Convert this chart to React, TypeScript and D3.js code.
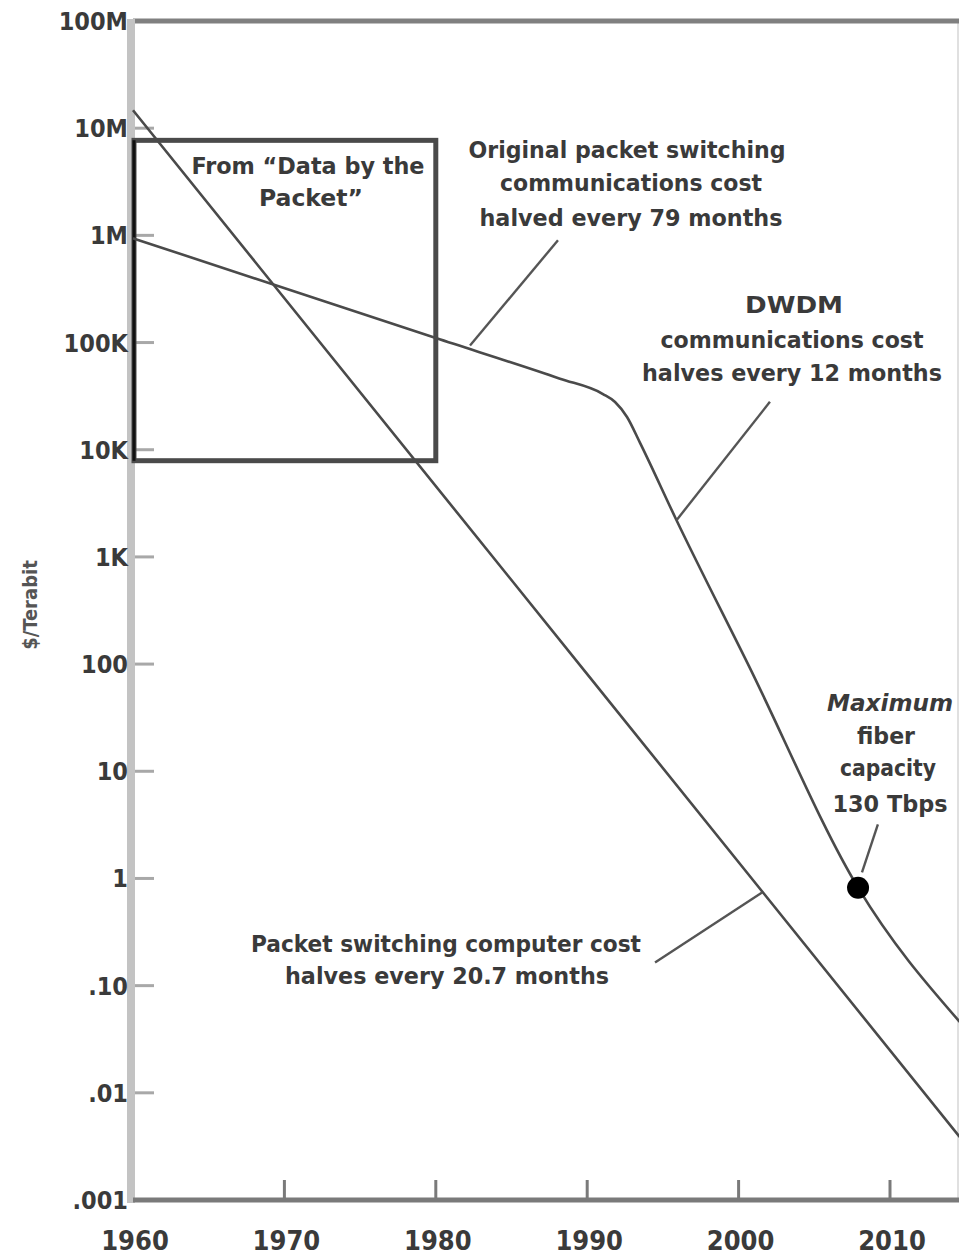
import * as d3 from "d3";

const yearTicks = [1960, 1970, 1980, 1990, 2000, 2010];
const costTicks = [1e-3, 1e-2, 1e-1, 1, 10, 100, 1e3, 1e4, 1e5, 1e6, 1e7, 1e8];
const costTickLabels = [".001", ".01", ".10", "1", "10", "100", "1K", "10K", "100K", "1M", "10M", "100M"];

// packet switching computer cost (halves every 20.7 months)
const computerYears = [1960, 1990, 2014.6];
const computerCost = [1.47e7, 80.7, 0.00388];

// original packet switching comm cost, then DWDM, then fiber limit
const commYears = [1960, 1980, 1988.2, 1991.04, 1991.84, 1992.63, 1993.49, 1995.9, 2000.62, 2007.89, 2014.6];
const commCost = [9.4e5, 1.1e5, 4.6e4, 3.31e4, 2.79e4, 2.02e4, 1.16e4, 2.2e3, 100, 0.82, 0.046];

const fiberYear = 2007.89;
const fiberCost = 0.82;

// the "Data by the Packet" window
const boxYears = [1960, 1980];
const boxCost = [7.7e6, 7.9e3];

// leader lines: [year, cost] from curve to label
const leaders: [number, number][][] = [
  [[1982.26, 9.4e4], [1988.07, 9.0e5]],
  [[1995.9, 2.2e3], [2002.07, 2.8e4]],
  [[2008.15, 1.14], [2009.2, 3.2]],
  [[1994.48, 0.164], [2001.55, 0.74]],
];

const W = 959;
const H = 1257;
const font = "'DejaVu Sans Condensed', 'DejaVu Sans', sans-serif";
const ink = "#3a3a3a";

export default function App() {
  const x = d3.scaleLinear().domain([1960, 2010]).range([133, 890]);
  const y = d3.scaleLog().domain([1e-3, 1e8]).range([1200, 21]);

  const straight = d3.line<[number, number]>().x(d => x(d[0])).y(d => y(d[1]));
  const smooth = d3.line<[number, number]>().x(d => x(d[0])).y(d => y(d[1])).curve(d3.curveMonotoneX);

  const computerPts = computerYears.map((yr, i) => [yr, computerCost[i]] as [number, number]);
  const commPts = commYears.map((yr, i) => [yr, commCost[i]] as [number, number]);

  const bx0 = x(boxYears[0]) + 1, bx1 = x(boxYears[1]);
  const by0 = y(boxCost[0]), by1 = y(boxCost[1]);
  const top = y(1e8);

  const txt = (s: string, cx: number, cy: number, len: number, size = 23, italic = false) => (
    <text
      x={cx}
      y={cy}
      textAnchor="middle"
      fontSize={size}
      fontWeight="bold"
      fontStyle={italic ? "italic" : "normal"}
      fill={ink}
      textLength={len}
      lengthAdjust="spacingAndGlyphs"
    >
      {s}
    </text>
  );

  return (
    <svg width={W} height={H} style={{ position: "absolute", left: 0, top: 0, background: "#fff" }} fontFamily={font}>
      {/* frame top and right */}
      <line x1={958} x2={958} y1={top} y2={1200} stroke="#d6d6d6" strokeWidth={1.5} />
      <line x1={133} x2={W} y1={top} y2={top} stroke="#808080" strokeWidth={5} />

      {/* y axis */}
      <line x1={131} x2={131} y1={top - 2} y2={1203} stroke="#c3c3c3" strokeWidth={8} />
      {costTicks.slice(1, -1).map((v, i) => (
        <line key={"yt" + i} x1={135} x2={154} y1={y(v)} y2={y(v)} stroke="#a8a8a8" strokeWidth={3} />
      ))}
      {costTicks.map((v, i) => (
        <text key={"yl" + i} x={128} y={y(v)} dy="0.36em" textAnchor="end" fontSize={25} fontWeight="bold" fill={ink}>
          {costTickLabels[i]}
        </text>
      ))}
      <text
        transform={`translate(30,605) rotate(-90)`}
        textAnchor="middle"
        dy="0.35em"
        fontSize={20}
        fontWeight="bold"
        fill="#555"
      >
        $/Terabit
      </text>

      {/* x axis */}
      <line x1={133} x2={W} y1={1200} y2={1200} stroke="#7a7a7a" strokeWidth={5} />
      {yearTicks.slice(1).map((yr, i) => (
        <line key={"xt" + i} x1={x(yr)} x2={x(yr)} y1={1180} y2={1200} stroke="#7a7a7a" strokeWidth={3} />
      ))}
      {yearTicks.map((yr, i) => (
        <text key={"xl" + i} x={x(yr) + 2} y={1250} textAnchor="middle" fontSize={27} fontWeight="bold" fill={ink}>
          {yr}
        </text>
      ))}

      {/* box */}
      <rect x={bx0} y={by0} width={bx1 - bx0} height={by1 - by0} fill="none" stroke="#4a4a4a" strokeWidth={5} />
      <line x1={134} x2={134} y1={by0} y2={by1} stroke="#111" strokeWidth={3} />
      {txt("From \u201CData by the", 308, 174, 233)}
      {txt("Packet\u201D", 311, 206, 104)}

      {/* curves */}
      <path d={straight(computerPts) ?? ""} fill="none" stroke="#4a4a4a" strokeWidth={2.6} />
      <path d={smooth(commPts) ?? ""} fill="none" stroke="#4a4a4a" strokeWidth={2.6} />
      {leaders.map((seg, i) => (
        <path key={"ld" + i} d={straight(seg) ?? ""} fill="none" stroke="#555" strokeWidth={2.4} />
      ))}
      <circle cx={x(fiberYear)} cy={y(fiberCost)} r={11} fill="#000" />

      {/* annotations */}
      {txt("Original packet switching", 627, 158, 317)}
      {txt("communications cost", 631, 191, 262)}
      {txt("halved every 79 months", 631, 226, 303)}

      {txt("DWDM", 794, 313, 98)}
      {txt("communications cost", 792, 348, 263)}
      {txt("halves every 12 months", 792, 381, 300)}

      {txt("Maximum", 890, 711, 126, 23, true)}
      {txt("fiber", 886, 744, 58)}
      {txt("capacity", 888, 776, 96)}
      {txt("130 Tbps", 890, 812, 115)}

      {txt("Packet switching computer cost", 446, 952, 390)}
      {txt("halves every 20.7 months", 447, 984, 324)}
    </svg>
  );
}
